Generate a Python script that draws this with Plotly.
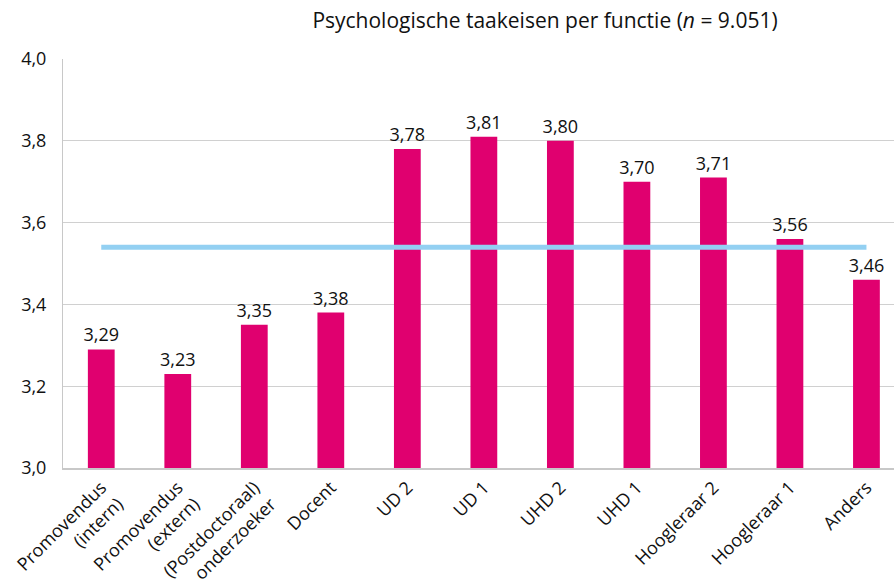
import plotly.graph_objects as go

categories = ["Promovendus<br>(intern)", "Promovendus<br>(extern)", "(Postdoctoraal)<br>onderzoeker",
              "Docent", "UD 2", "UD 1", "UHD 2", "UHD 1", "Hoogleraar 2", "Hoogleraar 1", "Anders"]
values = [3.29, 3.23, 3.35, 3.38, 3.78, 3.81, 3.80, 3.70, 3.71, 3.56, 3.46]
average = 3.54
title_text = "Psychologische taakeisen per functie (<i>n</i> = 9.051)"

labels = [f"{v:.2f}".replace(".", ",") for v in values]
FONT = "Open Sans"

fig = go.Figure()
fig.add_trace(go.Bar(
    x=categories, y=values, text=labels, textposition="outside",
    textfont=dict(family=FONT, size=18, color="#111"), constraintext="none",
    marker=dict(color="#E0006F", line=dict(width=0)),
    width=0.35, cliponaxis=False, showlegend=False,
))
fig.add_trace(go.Scatter(
    x=categories, y=[average] * len(categories), mode="lines",
    line=dict(color="#93D0F2", width=5), showlegend=False, hoverinfo="skip",
))

fig.update_layout(
    width=894, height=584,
    margin=dict(l=63, r=0, t=59, b=116),
    plot_bgcolor="white", paper_bgcolor="white",
    separators=",.",
    font=dict(family=FONT, size=16, color="#111"),
    title=dict(text=title_text, x=545 / 894, xanchor="center", y=0.965, yanchor="middle",
               font=dict(family=FONT, size=21, color="#111")),
    xaxis=dict(range=[-0.5, 10.36], tickangle=-45, showline=True, linecolor="#c8c8c8", linewidth=2,
               ticks="", showgrid=False, automargin=False,
               tickfont=dict(family=FONT, size=18, color="#111")),
    yaxis=dict(range=[3.0, 4.0], dtick=0.2, tickformat=".1f", showline=True, linecolor="#c8c8c8",
               linewidth=1, gridcolor="#d0d0d0", gridwidth=1, ticks="", zeroline=False,
               automargin=False, ticklabelstandoff=12,
               tickfont=dict(family=FONT, size=18, color="#111")),
)

fig.write_html("out.html", config={"displayModeBar": False},
               post_script="document.body.style.margin='0';document.body.style.overflow='hidden';")
